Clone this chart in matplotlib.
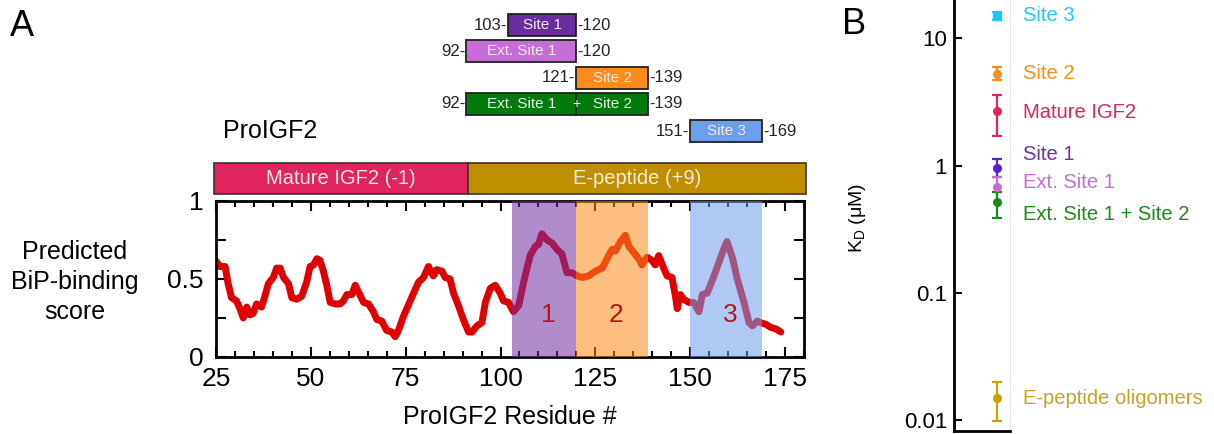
import numpy as np
import matplotlib
matplotlib.use("Agg")
import matplotlib.pyplot as plt
from matplotlib.patches import Rectangle
from matplotlib.ticker import MultipleLocator, NullLocator

plt.rcParams['font.family'] = ['Liberation Sans', 'DejaVu Sans']
plt.rcParams['mathtext.default'] = 'regular'

# ---- panel A data: predicted BiP-binding score along proIGF2 ----
residue = [25, 26, 27.4, 28.2, 29.1, 30.4, 31.3, 32.2, 33.1, 34, 34.8, 35.7, 37, 37.9,
           38.8, 40.1, 41, 41.9, 42.8, 44.1, 45, 46.3, 47.6, 48.9, 49.8, 50.7, 51.6,
           52.4, 53.3, 54.2, 55.1, 56.4, 57.7, 58.6, 59.5, 60.8, 61.7, 62.5, 63.9,
           65.2, 66.5, 67.4, 68.7, 70, 71.4, 72.2, 73.1, 74.4, 75.3, 77.1, 78.4,
           79.7, 81, 82.3, 83.2, 84.6, 85.4, 86.7, 87.6, 88.9, 90.2, 91.6, 92.5,
           93.8, 95.1, 96, 97.3, 98.6, 99.9, 100.8, 102.1, 103.4, 104.8, 106.1,
           107.8, 109.2, 110, 110.9, 112.3, 113.6, 114.9, 116.2, 117.5, 118.8,
           120.2, 121.5, 123.2, 125, 126.8, 128.5, 129.4, 130.3, 131.6, 132.9,
           133.8, 135.1, 136.4, 137.3, 138.6, 139.9, 140.8, 141.7, 143, 143.9,
           145.2, 146.1, 146.6, 147.4, 148.3, 149.6, 150.9, 152.3, 153.2, 154.5,
           155.8, 157.5, 158.8, 159.7, 161.1, 162.4, 164.2, 165.5, 166.4, 167.7,
           168.6, 169.9, 171.2, 172.6, 173.9]
score = [0.615, 0.58, 0.58, 0.47, 0.38, 0.36, 0.31, 0.25, 0.32, 0.27, 0.28, 0.34, 0.32, 0.39,
         0.47, 0.51, 0.57, 0.57, 0.51, 0.47, 0.38, 0.37, 0.39, 0.48, 0.58, 0.59, 0.63,
         0.62, 0.55, 0.46, 0.35, 0.34, 0.34, 0.36, 0.40, 0.40, 0.46, 0.42, 0.35,
         0.34, 0.29, 0.24, 0.23, 0.17, 0.16, 0.13, 0.17, 0.26, 0.31, 0.41, 0.48,
         0.51, 0.58, 0.52, 0.56, 0.55, 0.51, 0.50, 0.41, 0.33, 0.24, 0.16, 0.16,
         0.20, 0.22, 0.35, 0.44, 0.46, 0.41, 0.36, 0.35, 0.29, 0.33, 0.48,
         0.65, 0.71, 0.72, 0.79, 0.75, 0.73, 0.69, 0.66, 0.54, 0.54,
         0.52, 0.51, 0.52, 0.55, 0.57, 0.65, 0.69, 0.68, 0.74, 0.78,
         0.71, 0.67, 0.63, 0.59, 0.64, 0.62, 0.59, 0.65, 0.57, 0.52,
         0.51, 0.39, 0.31, 0.40, 0.37, 0.35, 0.35, 0.29, 0.40, 0.41,
         0.49, 0.60, 0.69, 0.74, 0.64, 0.50, 0.35, 0.22, 0.20, 0.23,
         0.22, 0.21, 0.19, 0.18, 0.16]

# shaded binding regions in the score plot
region_names = ['1', '2', '3']
region_start = [103, 120, 150]
region_end = [120, 139, 169]
region_colors = ['#7030a0', '#ff8c1a', '#6d9eeb']

# domain bar
domain_names = ['Mature IGF2 (-1)', 'E-peptide (+9)']
domain_start = [24.5, 91.5]
domain_end = [91.5, 180.5]
domain_colors = ['#e0245e', '#bf8f00']

# peptide constructs drawn above
pep_names = ['Site 1', 'Ext. Site 1', 'Site 2', 'Ext. Site 1', 'Site 3']
pep_first = [103, 92, 121, 92, 151]
pep_last = [120, 120, 139, 139, 169]
pep_colors = ['#6a2c9e', '#c86dd7', '#ff8c1a', '#007a0a', '#6d9eeb']

# ---- panel B data: K_D values (uM) ----
kd_names = ['Site 3', 'Site 2', 'Mature IGF2', 'Site 1', 'Ext. Site 1',
            'Ext. Site 1 + Site 2', 'E-peptide oligomers']
kd_value = [15.0, 5.2, 2.7, 0.95, 0.68, 0.52, 0.015]
kd_low = [14.0, 4.7, 1.7, 0.81, 0.62, 0.39, 0.0098]
kd_high = [16.0, 5.9, 3.6, 1.12, 0.81, 0.62, 0.020]
kd_label_y = [15.0, 5.3, 2.6, 1.23, 0.74, 0.41, 0.0148]
kd_point_colors = ['#1ec8f5', '#ff8c1a', '#e0245e', '#5a1fd6', '#c86dd7', '#1a8a1a', '#c9a200']
kd_text_colors = ['#1ec8f5', '#ff8c1a', '#e0245e', '#7030a0', '#c86dd7', '#1a8a1a', '#c9a227']
kd_markers = ['s', 'o', 'o', 'o', 'o', 'o', 'o']

W, H = 1214, 434
fig = plt.figure(figsize=(W / 100, H / 100), dpi=100)

# ---------------- panel A main plot ----------------
ax = fig.add_axes([216 / W, 1 - 357 / H, (804 - 216) / W, (357 - 201) / H])
ax.plot(residue, score, color='#e00000', lw=5, solid_joinstyle='round',
        solid_capstyle='round', zorder=2)
for name, s, e, c in zip(region_names, region_start, region_end, region_colors):
    ax.axvspan(s, e, color=c, alpha=0.55, lw=0, zorder=3)
    ax.text((s + e) / 2 + 1, 0.27, name, color='#c0101a', fontsize=19,
            ha='center', va='center', zorder=4)
ax.set_xlim(25, 180)
ax.set_ylim(0, 1)
ax.xaxis.set_minor_locator(MultipleLocator(5))
ax.set_xticks([25, 50, 75, 100, 125, 150, 175])
ax.set_yticks([0, 0.5, 1])
ax.set_yticklabels(['0', '0.5', '1'])
ax.yaxis.set_minor_locator(MultipleLocator(0.25))
ax.tick_params(which='both', direction='in', top=True, right=True, width=1.5,
               labelsize=19)
ax.tick_params(which='major', length=7)
ax.tick_params(which='minor', length=4)
ax.tick_params(axis='y', which='minor', length=7)
ax.tick_params(axis='x', pad=7)
ax.tick_params(axis='y', pad=9)
for sp in ax.spines.values():
    sp.set_linewidth(2)
ax.set_xlabel('ProIGF2 Residue #', fontsize=18, labelpad=10)
fig.text(75 / W, 1 - 282 / H, 'Predicted\nBiP-binding\nscore', fontsize=18,
         ha='center', va='center', linespacing=1.3)

# ---------------- panel A construct diagram ----------------
axt = fig.add_axes([216 / W, 1 - 200 / H, (804 - 216) / W, 200 / H])
axt.set_xlim(25, 180)
axt.set_ylim(200, 0)
axt.axis('off')

row_y = [25, 51, 78, 104, 131]
box_h = 22
for i, (name, a, b, c) in enumerate(zip(pep_names, pep_first, pep_last, pep_colors)):
    y = row_y[i]
    left = a - 1
    axt.add_patch(Rectangle((left, y - box_h / 2), b - left, box_h, facecolor=c,
                            edgecolor='#222222', lw=1.3, clip_on=False))
    axt.text(left - 0.3, y, f'{a}-', ha='right', va='center', fontsize=12, color='#222222')
    axt.text(b + 0.3, y, f'-{b}', ha='left', va='center', fontsize=12, color='#222222')
    if b - a > 40:
        mid = 120
        axt.plot([mid, mid], [y - box_h / 2, y + box_h / 2], color='#222222', lw=1.2)
        axt.text((left + mid) / 2, y, name, ha='center', va='center', fontsize=11,
                 color='#e8f0e8')
        axt.text((mid + b) / 2, y, 'Site 2', ha='center', va='center', fontsize=11,
                 color='#e8f0e8')
        axt.text(mid, y, '+', ha='center', va='center', fontsize=10, color='#e8f0e8')
    else:
        axt.text((left + b) / 2, y, name, ha='center', va='center', fontsize=11,
                 color='#f0e8f0')

for name, a, b, c in zip(domain_names, domain_start, domain_end, domain_colors):
    axt.add_patch(Rectangle((a, 163), b - a, 31, facecolor=c, edgecolor='#333333',
                            lw=1.2, clip_on=False))
    axt.text((a + b) / 2, 178.5, name, ha='center', va='center', fontsize=14.5,
             color='#f5ece0')

fig.text(223 / W, 1 - 131 / H, 'ProIGF2', fontsize=18, ha='left', va='center')
fig.text(10 / W, 1 - 26 / H, 'A', fontsize=26, ha='left', va='center')
fig.text(842 / W, 1 - 25 / H, 'B', fontsize=26, ha='left', va='center')

# ---------------- panel B ----------------
axb = fig.add_axes([954 / W, 1 - 431 / H, (1010 - 954) / W, 431 / H])
axb.set_yscale('log')
axb.set_ylim(0.0082, 20)
axb.set_xlim(0, 1.3)
for i in range(len(kd_names)):
    v = kd_value[i]
    axb.errorbar([1], [v], yerr=[[v - kd_low[i]], [kd_high[i] - v]],
                 fmt=kd_markers[i], color=kd_point_colors[i], ms=5.5 if i else 6,
                 capsize=3.5, elinewidth=1.6, capthick=1.6, clip_on=False)
    axb.annotate(kd_names[i], xy=(1, kd_label_y[i]), xytext=(19, 0),
                 textcoords='offset points', color=kd_text_colors[i], fontsize=14.5,
                 ha='left', va='center', annotation_clip=False)
axb.spines['top'].set_visible(False)
axb.spines['right'].set_color('#e6e6e6')
axb.spines['right'].set_linewidth(0.8)
axb.spines['left'].set_linewidth(2)
axb.spines['bottom'].set_linewidth(2)
axb.set_xticks([])
axb.set_yticks([0.01, 0.1, 1, 10])
axb.set_yticklabels(['0.01', '0.1', '1', '10'])
axb.yaxis.set_minor_locator(NullLocator())
axb.tick_params(axis='y', direction='in', length=6, width=1.5, labelsize=16, pad=5)
fig.text(858 / W, 1 - 218 / H, r'K$_D$ ($\mu$M)', rotation=90, fontsize=14,
         ha='center', va='center')

fig.savefig('out.png', dpi=100)
